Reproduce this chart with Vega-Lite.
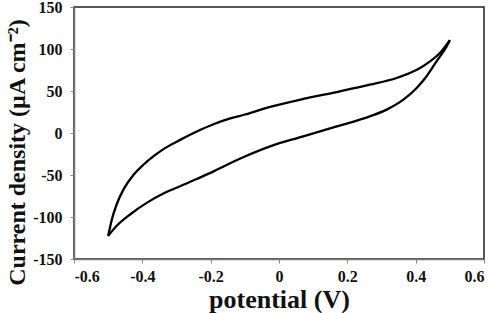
{
  "$schema": "https://vega.github.io/schema/vega-lite/v6.json",
  "width": 410,
  "height": 252,
  "autosize": {"type": "none"},
  "padding": {"left": 74, "top": 7, "right": 14, "bottom": 54},
  "background": "white",
  "config": {
    "view": {"stroke": "#222", "strokeWidth": 1.5},
    "axis": {
      "labelFont": "Liberation Serif",
      "titleFont": "Liberation Serif",
      "labelFontWeight": "bold",
      "titleFontWeight": "bold",
      "labelColor": "#111",
      "titleColor": "#111",
      "grid": false,
      "domainColor": "#777",
      "domainWidth": 1.5,
      "tickColor": "#888",
      "tickWidth": 1,
      "tickSize": 4,
      "labelExpr": "replace(datum.label, '−', '-')"
    }
  },
  "data": {
    "values": [
      {"b": "up", "v": -0.5, "j": -122.5},
      {"b": "up", "v": -0.489, "j": -102.6},
      {"b": "up", "v": -0.475, "j": -84.8},
      {"b": "up", "v": -0.455, "j": -67.1},
      {"b": "up", "v": -0.425, "j": -49.3},
      {"b": "up", "v": -0.396, "j": -37.5},
      {"b": "up", "v": -0.367, "j": -27.6},
      {"b": "up", "v": -0.337, "j": -18.9},
      {"b": "up", "v": -0.288, "j": -7.9},
      {"b": "up", "v": -0.239, "j": 2},
      {"b": "up", "v": -0.19, "j": 10.7},
      {"b": "up", "v": -0.161, "j": 15},
      {"b": "up", "v": -0.1, "j": 22},
      {"b": "up", "v": -0.026, "j": 31},
      {"b": "up", "v": 0.071, "j": 40.5},
      {"b": "up", "v": 0.169, "j": 48.8},
      {"b": "up", "v": 0.266, "j": 57.5},
      {"b": "up", "v": 0.344, "j": 65.5},
      {"b": "up", "v": 0.383, "j": 71.4},
      {"b": "up", "v": 0.413, "j": 77.4},
      {"b": "up", "v": 0.442, "j": 85.3},
      {"b": "up", "v": 0.471, "j": 95.2},
      {"b": "up", "v": 0.5, "j": 110.5},
      {"b": "down", "v": -0.5, "j": -122.5},
      {"b": "down", "v": -0.475, "j": -110.5},
      {"b": "down", "v": -0.435, "j": -96.7},
      {"b": "down", "v": -0.386, "j": -82.9},
      {"b": "down", "v": -0.337, "j": -71.8},
      {"b": "down", "v": -0.288, "j": -63.1},
      {"b": "down", "v": -0.239, "j": -54.5},
      {"b": "down", "v": -0.19, "j": -45.4},
      {"b": "down", "v": -0.161, "j": -39.5},
      {"b": "down", "v": -0.1, "j": -28},
      {"b": "down", "v": -0.026, "j": -15.9},
      {"b": "down", "v": 0.071, "j": -4},
      {"b": "down", "v": 0.169, "j": 7.9},
      {"b": "down", "v": 0.266, "j": 19.8},
      {"b": "down", "v": 0.315, "j": 27.8},
      {"b": "down", "v": 0.364, "j": 39.7},
      {"b": "down", "v": 0.403, "j": 53.6},
      {"b": "down", "v": 0.432, "j": 67.5},
      {"b": "down", "v": 0.461, "j": 85.3},
      {"b": "down", "v": 0.491, "j": 103.2},
      {"b": "down", "v": 0.5, "j": 110.5}
    ]
  },
  "mark": {"type": "line", "color": "black", "strokeWidth": 2.3, "interpolate": "monotone", "strokeJoin": "miter"},
  "encoding": {
    "x": {
      "field": "v",
      "type": "quantitative",
      "scale": {"domain": [-0.6, 0.6], "nice": false},
      "axis": {"values": [-0.6, -0.4, -0.2, 0, 0.2, 0.4, 0.6], "labelFontSize": 16, "labelPadding": 5, "title": "potential (V)", "titleFontSize": 26, "titlePadding": 2, "format": "~g"}
    },
    "y": {
      "field": "j",
      "type": "quantitative",
      "scale": {"domain": [-150, 150], "nice": false},
      "axis": {"values": [-150, -100, -50, 0, 50, 100, 150], "labelFontSize": 16, "labelPadding": 8, "title": "Current density (µA cm⁻²)", "titleFontSize": 24, "titlePadding": 3, "titleY": 145}
    },
    "detail": {"field": "b", "type": "nominal"},
    "order": {"field": "v", "type": "quantitative"}
  }
}
